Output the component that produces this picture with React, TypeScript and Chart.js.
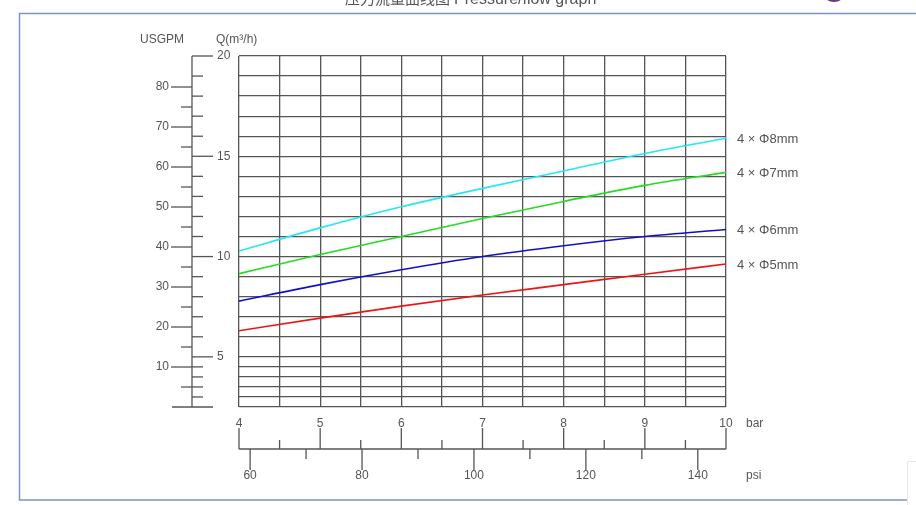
import React, { useEffect, useRef } from "react";
import { Chart, registerables } from "chart.js";

Chart.register(...registerables);

// ---- data ----
const BAR_POINTS = [4, 5, 6, 7, 8, 9, 10];
const Q_8MM = [10.28, 11.43, 12.48, 13.4, 14.27, 15.14, 15.9];
const Q_7MM = [9.15, 10.1, 11.0, 11.9, 12.75, 13.55, 14.2];
const Q_6MM = [7.78, 8.6, 9.34, 10.0, 10.54, 11.0, 11.35];
const Q_5MM = [6.3, 6.93, 7.53, 8.08, 8.6, 9.12, 9.63];
const SERIES_LABELS = ["4 × Φ8mm", "4 × Φ7mm", "4 × Φ6mm", "4 × Φ5mm"];
const SERIES_COLORS = ["#22e8f2", "#22dd22", "#1010cc", "#ee1414"];

const TITLE_CN = "压力流量曲线图";
const TITLE_EN = "Pressure/flow graph";

const BAR_RANGE = [4, 10];
const Q_RANGE = [2.5, 20];
const GPM_RANGE = [0, 87.75];
const PSI_PER_BAR = 14.5038;

const BAR_GRID = [4, 4.5, 5, 5.5, 6, 6.5, 7, 7.5, 8, 8.5, 9, 9.5, 10];
const Q_GRID = [2.5, 3, 3.5, 4, 4.5, 5, 6, 7, 8, 9, 10, 11, 12, 13, 14, 15, 16, 17, 18, 19, 20];
const BAR_MAJOR = [4, 5, 6, 7, 8, 9, 10];
const BAR_MINOR = [4.5, 5.5, 6.5, 7.5, 8.5, 9.5];
const PSI_MAJOR = [60, 80, 100, 120, 140];
const PSI_MINOR = [70, 90, 110, 130];
const Q_MAJOR = [5, 10, 15, 20];
const Q_MINOR = [3, 3.5, 4, 4.5, 6, 7, 8, 9, 11, 12, 13, 14, 16, 17, 18, 19];
const GPM_MAJOR = [10, 20, 30, 40, 50, 60, 70, 80];
const GPM_MINOR = [5, 15, 25, 35, 45, 55, 65, 75];

const INK = "#555555";
const FONT = "'Liberation Sans', Arial, sans-serif";

const decorPlugin = {
  id: "decor",
  afterDraw(chart: any) {
    const ctx = chart.ctx as CanvasRenderingContext2D;
    const area = chart.chartArea;
    const sx = chart.scales.x;
    const sy = chart.scales.y;
    const sg = chart.scales.gpm;
    const sp = chart.scales.psi;
    ctx.save();

    // outer frame
    ctx.strokeStyle = "#7b95c6";
    ctx.lineWidth = 1.5;
    ctx.beginPath();
    ctx.moveTo(930, 13.5);
    ctx.lineTo(19.5, 13.5);
    ctx.lineTo(19.5, 500);
    ctx.lineTo(907, 500);
    ctx.stroke();
    // white overlay box at bottom right
    ctx.fillStyle = "#ffffff";
    ctx.fillRect(907, 461, 20, 50);
    ctx.strokeStyle = "#e6e6e6";
    ctx.lineWidth = 1;
    ctx.beginPath();
    ctx.moveTo(907.5, 510);
    ctx.lineTo(907.5, 461.5);
    ctx.lineTo(920, 461.5);
    ctx.stroke();

    // cut-off logo
    ctx.fillStyle = "#6a3d7a";
    ctx.beginPath();
    ctx.ellipse(834, -1, 7, 3, 0, 0, Math.PI * 2);
    ctx.fill();

    // title (cut at top)
    ctx.fillStyle = "#555";
    ctx.textBaseline = "alphabetic";
    ctx.textAlign = "left";
    ctx.font = "15px 'Noto Sans CJK SC', sans-serif";
    ctx.fillText(TITLE_CN, 345, 4);
    ctx.font = "16px " + FONT;
    ctx.fillText(TITLE_EN, 454, 4);

    ctx.strokeStyle = INK;
    ctx.fillStyle = INK;
    ctx.lineWidth = 1.3;
    ctx.font = "12px " + FONT;

    const line = (x1: number, y1: number, x2: number, y2: number) => {
      ctx.beginPath();
      ctx.moveTo(x1, y1);
      ctx.lineTo(x2, y2);
      ctx.stroke();
    };

    // ---- left double axis ----
    const ax = area.left - 47;
    line(ax, sy.getPixelForValue(Q_RANGE[1]), ax, area.bottom);
    line(ax - 20, area.bottom, ax + 21, area.bottom);
    ctx.textBaseline = "middle";
    ctx.textAlign = "left";
    Q_MAJOR.forEach((v) => {
      const y = sy.getPixelForValue(v);
      line(ax, y, ax + 21, y);
      ctx.fillText(String(v), ax + 25, y);
    });
    Q_MINOR.forEach((v) => {
      const y = sy.getPixelForValue(v);
      line(ax, y, ax + 11, y);
    });
    ctx.textAlign = "right";
    GPM_MAJOR.forEach((g) => {
      const y = sg.getPixelForValue(g);
      line(ax - 21, y, ax, y);
      ctx.fillText(String(g), ax - 23, y);
    });
    GPM_MINOR.forEach((g) => {
      const y = sg.getPixelForValue(g);
      line(ax - 11, y, ax, y);
    });
    ctx.textAlign = "left";
    ctx.fillText("USGPM", ax - 52, area.top - 16);
    ctx.fillText("Q(m³/h)", ax + 24, area.top - 16);

    // ---- bottom double axis ----
    const by = area.bottom + 42;
    line(sx.getPixelForValue(BAR_RANGE[0]), by, sx.getPixelForValue(BAR_RANGE[1]), by);
    ctx.textAlign = "center";
    BAR_MAJOR.forEach((b) => {
      const x = sx.getPixelForValue(b);
      line(x, by - 21, x, by);
      ctx.fillText(String(b), x, by - 25);
    });
    BAR_MINOR.forEach((b) => {
      const x = sx.getPixelForValue(b);
      line(x, by - 9, x, by);
    });
    PSI_MAJOR.forEach((p) => {
      const x = sp.getPixelForValue(p);
      line(x, by, x, by + 21);
      ctx.fillText(String(p), x, by + 27);
    });
    PSI_MINOR.forEach((p) => {
      const x = sp.getPixelForValue(p);
      line(x, by, x, by + 10);
    });
    ctx.textAlign = "left";
    ctx.fillText("bar", area.right + 20, by - 25);
    ctx.fillText("psi", area.right + 20, by + 27);

    // ---- series labels at line ends ----
    ctx.font = "13px " + FONT;
    chart.data.datasets.forEach((ds: any, i: number) => {
      const meta = chart.getDatasetMeta(i);
      const pt = meta.data[meta.data.length - 1];
      ctx.fillText(ds.label, area.right + 11, pt.y + 1);
    });

    ctx.restore();
  },
};

export default function App() {
  const ref = useRef<HTMLCanvasElement | null>(null);

  useEffect(() => {
    if (!ref.current) return;
    const seriesValues = [Q_8MM, Q_7MM, Q_6MM, Q_5MM];
    const chart = new Chart(ref.current, {
      type: "line",
      data: {
        datasets: seriesValues.map((vals, i) => ({
          label: SERIES_LABELS[i],
          data: BAR_POINTS.map((b, j) => ({ x: b, y: vals[j] })),
          borderColor: SERIES_COLORS[i],
          backgroundColor: SERIES_COLORS[i],
          borderWidth: 1.6,
          pointRadius: 0,
          cubicInterpolationMode: "monotone",
          xAxisID: "x",
          yAxisID: "y",
        })),
      },
      options: {
        responsive: false,
        animation: false,
        devicePixelRatio: 1,
        events: [],
        layout: { padding: { left: 239, top: 56, right: 190, bottom: 98 } },
        plugins: {
          legend: { display: false },
          title: { display: false },
          tooltip: { enabled: false },
        },
        scales: {
          x: {
            type: "linear",
            position: "bottom",
            min: BAR_RANGE[0],
            max: BAR_RANGE[1],
            afterBuildTicks: (s: any) => {
              s.ticks = BAR_GRID.map((v) => ({ value: v }));
            },
            ticks: { display: false },
            grid: { color: INK, lineWidth: 1.3, drawTicks: false },
            border: { display: false },
          },
          y: {
            type: "linear",
            position: "left",
            min: Q_RANGE[0],
            max: Q_RANGE[1],
            afterBuildTicks: (s: any) => {
              s.ticks = Q_GRID.map((v) => ({ value: v }));
            },
            ticks: { display: false },
            grid: { color: INK, lineWidth: 1.3, drawTicks: false },
            border: { display: false },
          },
          gpm: {
            type: "linear",
            axis: "y",
            position: "left",
            display: false,
            min: GPM_RANGE[0],
            max: GPM_RANGE[1],
          },
          psi: {
            type: "linear",
            axis: "x",
            position: "bottom",
            display: false,
            min: BAR_RANGE[0] * PSI_PER_BAR,
            max: BAR_RANGE[1] * PSI_PER_BAR,
          },
        },
      } as any,
      plugins: [decorPlugin],
    });
    return () => chart.destroy();
  }, []);

  return (
    <div
      style={{
        position: "absolute",
        left: 0,
        top: 0,
        width: 916,
        height: 505,
        overflow: "hidden",
        background: "#ffffff",
      }}
    >
      <canvas ref={ref} width={916} height={505} style={{ width: 916, height: 505, display: "block" }} />
    </div>
  );
}
